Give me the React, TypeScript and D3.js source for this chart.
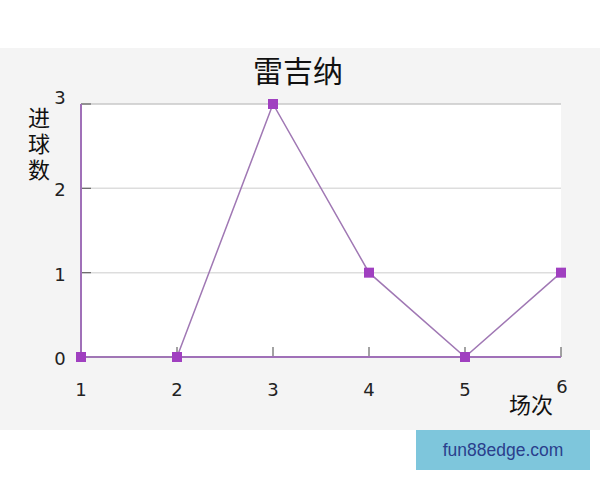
import React, { useEffect, useRef } from "react";
import * as d3 from "d3";

const matches = [1, 2, 3, 4, 5, 6];
const goals = [0, 0, 3, 1, 0, 1];
const yTicks = [0, 1, 2, 3];
const title = "雷吉纳";
const yLabel = "进球数";
const xLabel = "场次";
const watermark = "fun88edge.com";

const App: React.FC = () => {
  const svgRef = useRef<SVGSVGElement | null>(null);

  useEffect(() => {
    if (!svgRef.current) return;
    const svg = d3.select(svgRef.current);
    svg.selectAll("*").remove();

    const width = 600;
    const height = 480;
    const plot = { left: 81, right: 561, top: 104, bottom: 357 };
    const cjk = "'Noto Sans CJK SC', sans-serif";
    const num = "'DejaVu Sans', sans-serif";

    svg.attr("width", width).attr("height", height);

    svg.append("rect").attr("width", width).attr("height", height).attr("fill", "#fff");
    svg.append("rect").attr("y", 48).attr("width", width).attr("height", 382).attr("fill", "#f4f4f4");

    const x = d3.scaleLinear().domain([1, 6]).range([plot.left, plot.right]);
    const y = d3.scaleLinear().domain([0, 3]).range([plot.bottom, plot.top]);

    svg
      .append("rect")
      .attr("x", plot.left)
      .attr("y", plot.top)
      .attr("width", plot.right - plot.left)
      .attr("height", plot.bottom - plot.top)
      .attr("fill", "#fff");

    // gridlines
    svg
      .append("g")
      .selectAll("line")
      .data(yTicks.filter((t) => t > 0))
      .enter()
      .append("line")
      .attr("x1", plot.left)
      .attr("x2", plot.right)
      .attr("y1", (d) => y(d))
      .attr("y2", (d) => y(d))
      .attr("stroke", (d) => (d === 3 ? "#c8c8c8" : "#dddddd"))
      .attr("stroke-width", 1.5);

    // y ticks (inward)
    svg
      .append("g")
      .selectAll("line")
      .data(yTicks)
      .enter()
      .append("line")
      .attr("x1", plot.left)
      .attr("x2", plot.left + 10)
      .attr("y1", (d) => y(d))
      .attr("y2", (d) => y(d))
      .attr("stroke", "#666")
      .attr("stroke-width", 1.2);

    // x ticks (inward)
    svg
      .append("g")
      .selectAll("line")
      .data(matches.slice(1))
      .enter()
      .append("line")
      .attr("x1", (d) => x(d))
      .attr("x2", (d) => x(d))
      .attr("y1", plot.bottom)
      .attr("y2", plot.bottom - 10)
      .attr("stroke", "#666")
      .attr("stroke-width", 1.2);

    // axes
    svg
      .append("line")
      .attr("x1", plot.left)
      .attr("x2", plot.left)
      .attr("y1", plot.top)
      .attr("y2", plot.bottom)
      .attr("stroke", "#a070b8")
      .attr("stroke-width", 2);
    svg
      .append("line")
      .attr("x1", plot.left)
      .attr("x2", plot.right)
      .attr("y1", plot.bottom)
      .attr("y2", plot.bottom)
      .attr("stroke", "#a070b8")
      .attr("stroke-width", 2);

    // y tick labels
    svg
      .append("g")
      .selectAll("text")
      .data(yTicks)
      .enter()
      .append("text")
      .attr("x", 60)
      .attr("y", (d) => y(d) + (d === 3 ? 0 : 8))
      .attr("text-anchor", "middle")
      .attr("font-family", num)
      .attr("font-size", 18)
      .attr("fill", "#222")
      .text((d) => d);

    // x tick labels
    svg
      .append("g")
      .selectAll("text")
      .data(matches)
      .enter()
      .append("text")
      .attr("x", (d) => x(d) + (d === 6 ? 1 : 0))
      .attr("y", (d) => (d === 6 ? 393 : 396))
      .attr("text-anchor", "middle")
      .attr("font-family", num)
      .attr("font-size", 18)
      .attr("fill", "#222")
      .text((d) => d);

    svg
      .append("text")
      .attr("x", 298)
      .attr("y", 82)
      .attr("text-anchor", "middle")
      .attr("font-family", cjk)
      .attr("font-size", 30)
      .attr("fill", "#111")
      .text(title);

    // vertical y-axis title
    svg
      .append("text")
      .attr("x", 39)
      .attr("y", 107)
      .attr("writing-mode", "vertical-rl")
      .attr("letter-spacing", 4)
      .attr("font-family", cjk)
      .attr("font-size", 22)
      .attr("fill", "#111")
      .text(yLabel);

    svg
      .append("text")
      .attr("x", 531)
      .attr("y", 413)
      .attr("text-anchor", "middle")
      .attr("font-family", cjk)
      .attr("font-size", 22)
      .attr("fill", "#111")
      .text(xLabel);

    // series line
    const line = d3
      .line<number>()
      .x((_, i) => x(matches[i]))
      .y((d) => y(d));
    svg
      .append("path")
      .datum(goals)
      .attr("fill", "none")
      .attr("stroke", "#a078b4")
      .attr("stroke-width", 1.5)
      .attr("d", line);

    svg
      .append("g")
      .selectAll("rect")
      .data(goals)
      .enter()
      .append("rect")
      .attr("x", (_, i) => x(matches[i]) - 5)
      .attr("y", (d) => y(d) - 5)
      .attr("width", 10)
      .attr("height", 10)
      .attr("fill", "#a040c0");

    // watermark
    svg
      .append("rect")
      .attr("x", 416)
      .attr("y", 430)
      .attr("width", 174)
      .attr("height", 40)
      .attr("fill", "#7ec6dc");
    svg
      .append("text")
      .attr("x", 503)
      .attr("y", 456)
      .attr("text-anchor", "middle")
      .attr("font-family", "'Liberation Sans', sans-serif")
      .attr("font-size", 17.5)
      .attr("fill", "#2a3f8c")
      .text(watermark);
  }, []);

  return (
    <svg
      ref={svgRef}
      style={{ position: "absolute", left: 0, top: 0, display: "block" }}
    ></svg>
  );
};

export default App;
